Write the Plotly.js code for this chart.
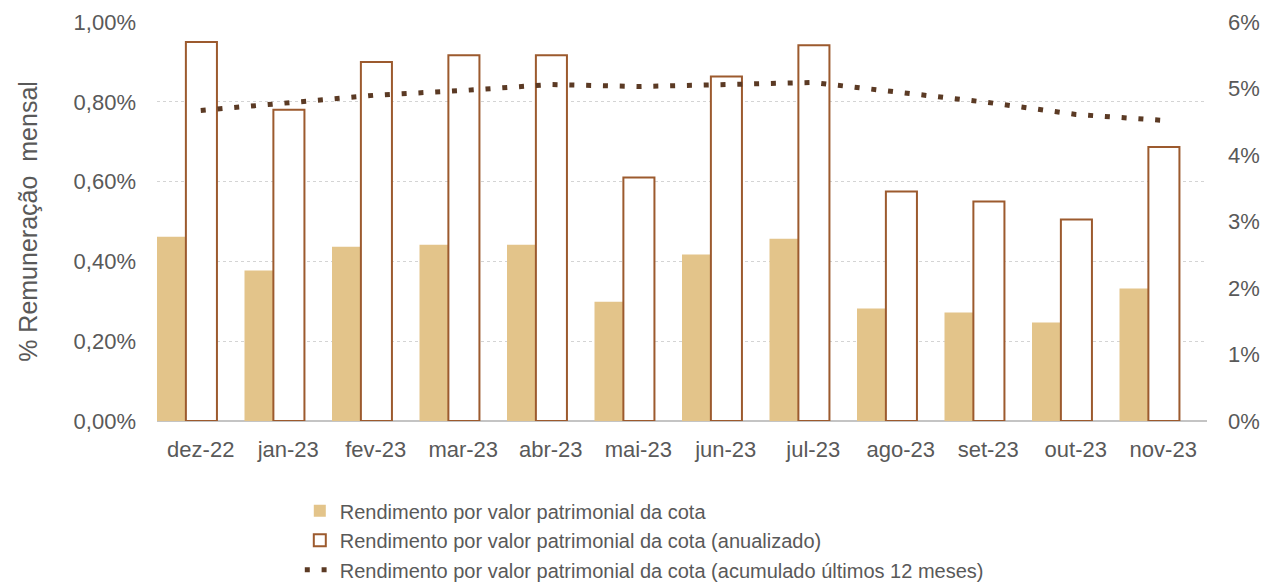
<!DOCTYPE html>
<html>
<head>
<meta charset="utf-8">
<script src="https://cdn.plot.ly/plotly-3.0.1.min.js"></script>
<style>
  html, body { margin: 0; padding: 0; background: #ffffff; }
  #chart { width: 1264px; height: 584px; }
</style>
</head>
<body>
<div id="chart"></div>
<script>
// Categories (months)
const months = ["dez-22", "jan-23", "fev-23", "mar-23", "abr-23", "mai-23",
                "jun-23", "jul-23", "ago-23", "set-23", "out-23", "nov-23"];

// Rendimento por valor patrimonial da cota (% mensal, left axis)
const rendMensal = [0.462, 0.377, 0.437, 0.442, 0.442, 0.299,
                    0.417, 0.457, 0.282, 0.272, 0.247, 0.332];

// Rendimento anualizado (% a.a., right axis)
const rendAnualizado = [5.70, 4.68, 5.40, 5.50, 5.50, 3.66,
                        5.18, 5.65, 3.45, 3.30, 3.03, 4.12];

// Rendimento acumulado últimos 12 meses (%, right axis)
const rendAcum12m = [4.67, 4.79, 4.90, 4.97, 5.06, 5.03,
                     5.06, 5.09, 4.94, 4.79, 4.61, 4.52];

const seriesNames = [
  "Rendimento por valor patrimonial da cota",
  "Rendimento por valor patrimonial da cota (anualizado)",
  "Rendimento por valor patrimonial da cota (acumulado últimos 12 meses)"
];

const textColor = "#595959";
const fontFamily = "Liberation Sans, Arial, sans-serif";

const traces = [
  {
    type: "bar",
    name: seriesNames[0],
    legendgroup: "g1",
    x: months,
    y: rendMensal,
    yaxis: "y",
    width: 0.33,
    offset: -0.50,
    marker: { color: "#E3C48A", line: { width: 0 } },
    hoverinfo: "x+y"
  },
  {
    type: "bar",
    name: seriesNames[1],
    legendgroup: "g2",
    x: months,
    y: rendAnualizado,
    yaxis: "y2",
    width: 0.355,
    offset: -0.17,
    marker: { color: "#FFFFFF", line: { color: "#9C5A2E", width: 2 } },
    hoverinfo: "x+y"
  },
  {
    type: "scatter",
    mode: "lines",
    name: seriesNames[2],
    legendgroup: "g3",
    x: months,
    y: rendAcum12m,
    yaxis: "y2",
    line: { color: "#5B3A24", width: 5, dash: "5px,11.8px" },
    hoverinfo: "x+y"
  }
];

const layout = {
  width: 1264,
  height: 584,
  margin: { l: 157, r: 57, t: 22, b: 163, autoexpand: false },
  paper_bgcolor: "#FFFFFF",
  plot_bgcolor: "#FFFFFF",
  separators: ",.",
  barmode: "overlay",
  showlegend: true,
  font: { family: fontFamily, color: textColor, size: 22 },
  xaxis: {
    type: "category",
    range: [-0.5, 11.5],
    showgrid: false,
    showline: false,
    zeroline: false,
    ticks: "",
    ticklabelstandoff: 13,
    tickfont: { size: 22, color: textColor, family: fontFamily },
    fixedrange: true
  },
  yaxis: {
    range: [0, 1.0],
    dtick: 0.2,
    tickformat: ".2f",
    ticksuffix: "%",
    showgrid: true,
    gridcolor: "#D4D4D4",
    griddash: "dot",
    gridwidth: 1.2,
    zeroline: true,
    zerolinecolor: "#C4C4C4",
    zerolinewidth: 2,
    showline: false,
    ticks: "",
    ticklabelstandoff: 20,
    tickfont: { size: 22, color: textColor, family: fontFamily },
    title: {
      text: "% Remuneração  mensal",
      font: { size: 25, color: textColor, family: fontFamily },
      standoff: 28
    },
    fixedrange: true
  },
  yaxis2: {
    overlaying: "y",
    side: "right",
    range: [0, 6],
    dtick: 1,
    tickformat: ".0f",
    ticksuffix: "%",
    showgrid: false,
    zeroline: false,
    showline: false,
    ticks: "",
    ticklabelstandoff: 20,
    tickfont: { size: 22, color: textColor, family: fontFamily },
    fixedrange: true
  },
  legend: {
    orientation: "v",
    x: 0.136,
    xanchor: "left",
    y: -0.176,
    yanchor: "top",
    font: { size: 20, color: textColor, family: fontFamily },
    bgcolor: "rgba(0,0,0,0)",
    traceorder: "grouped",
    tracegroupgap: 0.5,
    itemwidth: 30
  }
};

Plotly.newPlot("chart", traces, layout, { staticPlot: true, displayModeBar: false });
</script>
</body>
</html>
